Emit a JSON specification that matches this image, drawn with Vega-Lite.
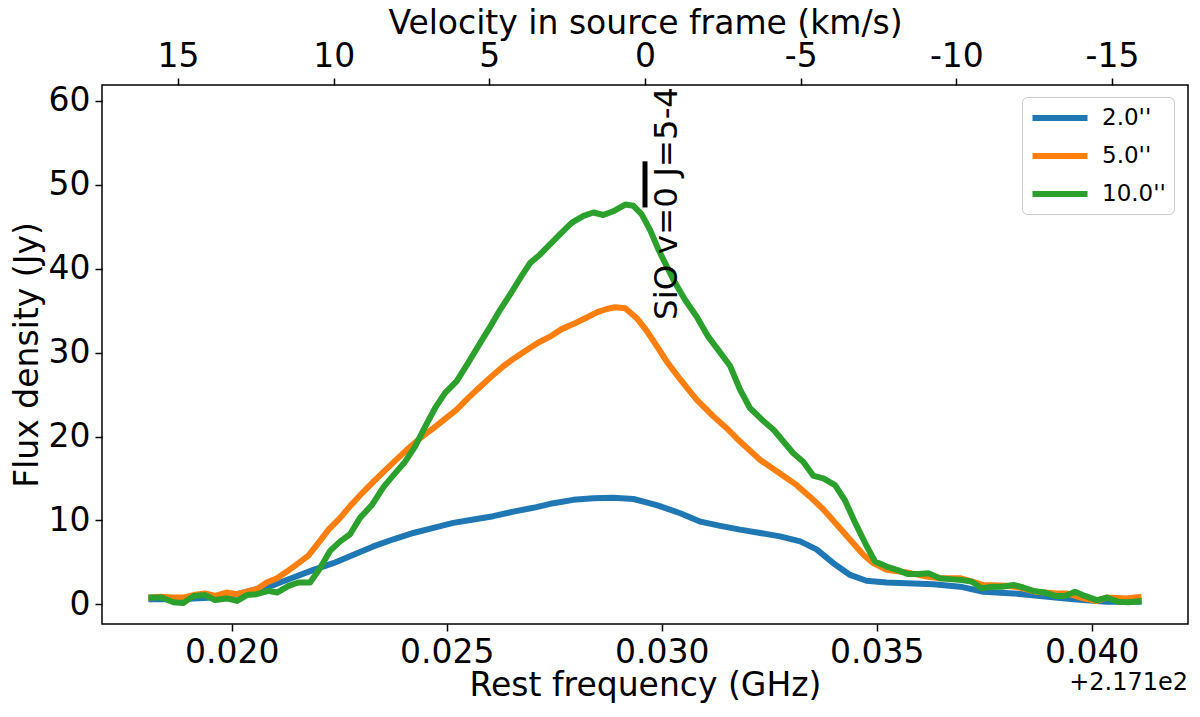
{
  "$schema": "https://vega.github.io/schema/vega-lite/v6.json",
  "width": 1086,
  "height": 539,
  "autosize": "none",
  "padding": {"left": 102, "top": 85, "right": 12, "bottom": 93},
  "background": "white",
  "config": {
    "font": "DejaVu Sans",
    "view": {"stroke": "black", "strokeWidth": 1.5},
    "axis": {
      "domain": false,
      "grid": false,
      "tickColor": "black",
      "tickSize": 7,
      "tickWidth": 1.5,
      "labelFont": "DejaVu Sans",
      "labelFontSize": 33,
      "labelColor": "black",
      "labelPadding": 5,
      "titleFont": "DejaVu Sans",
      "titleFontSize": 33,
      "titleFontWeight": "normal",
      "titleColor": "black"
    }
  },
  "datasets": {
    "spectra": [
      {"f": 0.01806, "flux": 0.6, "ap": "2.0"},
      {"f": 0.01864, "flux": 0.6, "ap": "2.0"},
      {"f": 0.01911, "flux": 0.7, "ap": "2.0"},
      {"f": 0.01957, "flux": 0.8, "ap": "2.0"},
      {"f": 0.02004, "flux": 1.1, "ap": "2.0"},
      {"f": 0.0205, "flux": 1.7, "ap": "2.0"},
      {"f": 0.02097, "flux": 2.3, "ap": "2.0"},
      {"f": 0.02143, "flux": 3.2, "ap": "2.0"},
      {"f": 0.0219, "flux": 4.1, "ap": "2.0"},
      {"f": 0.02236, "flux": 4.9, "ap": "2.0"},
      {"f": 0.02283, "flux": 5.9, "ap": "2.0"},
      {"f": 0.02329, "flux": 6.9, "ap": "2.0"},
      {"f": 0.02376, "flux": 7.75, "ap": "2.0"},
      {"f": 0.02422, "flux": 8.5, "ap": "2.0"},
      {"f": 0.02469, "flux": 9.1, "ap": "2.0"},
      {"f": 0.02515, "flux": 9.7, "ap": "2.0"},
      {"f": 0.02562, "flux": 10.1, "ap": "2.0"},
      {"f": 0.02608, "flux": 10.5, "ap": "2.0"},
      {"f": 0.02655, "flux": 11.05, "ap": "2.0"},
      {"f": 0.02701, "flux": 11.5, "ap": "2.0"},
      {"f": 0.02748, "flux": 12.05, "ap": "2.0"},
      {"f": 0.02794, "flux": 12.45, "ap": "2.0"},
      {"f": 0.02841, "flux": 12.65, "ap": "2.0"},
      {"f": 0.02887, "flux": 12.7, "ap": "2.0"},
      {"f": 0.02934, "flux": 12.55, "ap": "2.0"},
      {"f": 0.0296, "flux": 12.2, "ap": "2.0"},
      {"f": 0.0299, "flux": 11.8, "ap": "2.0"},
      {"f": 0.03043, "flux": 10.85, "ap": "2.0"},
      {"f": 0.0309, "flux": 9.85, "ap": "2.0"},
      {"f": 0.03136, "flux": 9.35, "ap": "2.0"},
      {"f": 0.03182, "flux": 8.9, "ap": "2.0"},
      {"f": 0.03229, "flux": 8.5, "ap": "2.0"},
      {"f": 0.03275, "flux": 8.1, "ap": "2.0"},
      {"f": 0.03322, "flux": 7.5, "ap": "2.0"},
      {"f": 0.0336, "flux": 6.55, "ap": "2.0"},
      {"f": 0.03399, "flux": 4.9, "ap": "2.0"},
      {"f": 0.03438, "flux": 3.5, "ap": "2.0"},
      {"f": 0.03476, "flux": 2.8, "ap": "2.0"},
      {"f": 0.03523, "flux": 2.6, "ap": "2.0"},
      {"f": 0.0357, "flux": 2.5, "ap": "2.0"},
      {"f": 0.03632, "flux": 2.4, "ap": "2.0"},
      {"f": 0.03694, "flux": 2.1, "ap": "2.0"},
      {"f": 0.03748, "flux": 1.5, "ap": "2.0"},
      {"f": 0.03818, "flux": 1.3, "ap": "2.0"},
      {"f": 0.0388, "flux": 1.0, "ap": "2.0"},
      {"f": 0.03957, "flux": 0.6, "ap": "2.0"},
      {"f": 0.04035, "flux": 0.3, "ap": "2.0"},
      {"f": 0.04116, "flux": 0.3, "ap": "2.0"},

      {"f": 0.01806, "flux": 0.8, "ap": "5.0"},
      {"f": 0.01837, "flux": 0.9, "ap": "5.0"},
      {"f": 0.01864, "flux": 0.8, "ap": "5.0"},
      {"f": 0.01887, "flux": 0.8, "ap": "5.0"},
      {"f": 0.01911, "flux": 1.1, "ap": "5.0"},
      {"f": 0.01938, "flux": 1.3, "ap": "5.0"},
      {"f": 0.01961, "flux": 1.0, "ap": "5.0"},
      {"f": 0.01988, "flux": 1.4, "ap": "5.0"},
      {"f": 0.02012, "flux": 1.2, "ap": "5.0"},
      {"f": 0.02035, "flux": 1.5, "ap": "5.0"},
      {"f": 0.02058, "flux": 1.8, "ap": "5.0"},
      {"f": 0.02081, "flux": 2.6, "ap": "5.0"},
      {"f": 0.02105, "flux": 3.1, "ap": "5.0"},
      {"f": 0.02128, "flux": 3.9, "ap": "5.0"},
      {"f": 0.02155, "flux": 4.9, "ap": "5.0"},
      {"f": 0.02178, "flux": 5.8, "ap": "5.0"},
      {"f": 0.02201, "flux": 7.3, "ap": "5.0"},
      {"f": 0.02225, "flux": 8.9, "ap": "5.0"},
      {"f": 0.02252, "flux": 10.3, "ap": "5.0"},
      {"f": 0.02275, "flux": 11.7, "ap": "5.0"},
      {"f": 0.02302, "flux": 13.2, "ap": "5.0"},
      {"f": 0.02329, "flux": 14.6, "ap": "5.0"},
      {"f": 0.02357, "flux": 16.0, "ap": "5.0"},
      {"f": 0.02384, "flux": 17.3, "ap": "5.0"},
      {"f": 0.02411, "flux": 18.6, "ap": "5.0"},
      {"f": 0.02438, "flux": 19.8, "ap": "5.0"},
      {"f": 0.02469, "flux": 21.0, "ap": "5.0"},
      {"f": 0.02496, "flux": 22.1, "ap": "5.0"},
      {"f": 0.02523, "flux": 23.2, "ap": "5.0"},
      {"f": 0.0255, "flux": 24.6, "ap": "5.0"},
      {"f": 0.02577, "flux": 25.9, "ap": "5.0"},
      {"f": 0.02605, "flux": 27.2, "ap": "5.0"},
      {"f": 0.02632, "flux": 28.4, "ap": "5.0"},
      {"f": 0.02659, "flux": 29.4, "ap": "5.0"},
      {"f": 0.02686, "flux": 30.3, "ap": "5.0"},
      {"f": 0.02713, "flux": 31.2, "ap": "5.0"},
      {"f": 0.0274, "flux": 31.9, "ap": "5.0"},
      {"f": 0.02767, "flux": 32.8, "ap": "5.0"},
      {"f": 0.02794, "flux": 33.4, "ap": "5.0"},
      {"f": 0.02822, "flux": 34.1, "ap": "5.0"},
      {"f": 0.02849, "flux": 34.8, "ap": "5.0"},
      {"f": 0.02872, "flux": 35.2, "ap": "5.0"},
      {"f": 0.02891, "flux": 35.4, "ap": "5.0"},
      {"f": 0.02915, "flux": 35.3, "ap": "5.0"},
      {"f": 0.02942, "flux": 34.1, "ap": "5.0"},
      {"f": 0.02965, "flux": 32.6, "ap": "5.0"},
      {"f": 0.02992, "flux": 30.5, "ap": "5.0"},
      {"f": 0.03012, "flux": 28.9, "ap": "5.0"},
      {"f": 0.03043, "flux": 26.8, "ap": "5.0"},
      {"f": 0.03081, "flux": 24.4, "ap": "5.0"},
      {"f": 0.0312, "flux": 22.4, "ap": "5.0"},
      {"f": 0.03155, "flux": 20.8, "ap": "5.0"},
      {"f": 0.03182, "flux": 19.4, "ap": "5.0"},
      {"f": 0.03229, "flux": 17.2, "ap": "5.0"},
      {"f": 0.03275, "flux": 15.6, "ap": "5.0"},
      {"f": 0.03314, "flux": 14.2, "ap": "5.0"},
      {"f": 0.03345, "flux": 12.8, "ap": "5.0"},
      {"f": 0.03376, "flux": 11.3, "ap": "5.0"},
      {"f": 0.03407, "flux": 9.5, "ap": "5.0"},
      {"f": 0.03438, "flux": 7.7, "ap": "5.0"},
      {"f": 0.03469, "flux": 5.9, "ap": "5.0"},
      {"f": 0.03492, "flux": 4.9, "ap": "5.0"},
      {"f": 0.03523, "flux": 4.1, "ap": "5.0"},
      {"f": 0.0357, "flux": 3.8, "ap": "5.0"},
      {"f": 0.03616, "flux": 3.3, "ap": "5.0"},
      {"f": 0.03647, "flux": 3.1, "ap": "5.0"},
      {"f": 0.03694, "flux": 3.1, "ap": "5.0"},
      {"f": 0.03717, "flux": 2.8, "ap": "5.0"},
      {"f": 0.03748, "flux": 2.3, "ap": "5.0"},
      {"f": 0.03802, "flux": 2.2, "ap": "5.0"},
      {"f": 0.03833, "flux": 2.0, "ap": "5.0"},
      {"f": 0.03868, "flux": 1.5, "ap": "5.0"},
      {"f": 0.03919, "flux": 1.3, "ap": "5.0"},
      {"f": 0.03942, "flux": 1.3, "ap": "5.0"},
      {"f": 0.03981, "flux": 0.7, "ap": "5.0"},
      {"f": 0.04012, "flux": 0.4, "ap": "5.0"},
      {"f": 0.04035, "flux": 0.8, "ap": "5.0"},
      {"f": 0.04081, "flux": 0.7, "ap": "5.0"},
      {"f": 0.04116, "flux": 0.9, "ap": "5.0"},

      {"f": 0.01806, "flux": 0.8, "ap": "10.0"},
      {"f": 0.01837, "flux": 0.8, "ap": "10.0"},
      {"f": 0.01864, "flux": 0.25, "ap": "10.0"},
      {"f": 0.01887, "flux": 0.15, "ap": "10.0"},
      {"f": 0.01911, "flux": 1.0, "ap": "10.0"},
      {"f": 0.01938, "flux": 1.1, "ap": "10.0"},
      {"f": 0.01961, "flux": 0.5, "ap": "10.0"},
      {"f": 0.01988, "flux": 0.7, "ap": "10.0"},
      {"f": 0.02012, "flux": 0.4, "ap": "10.0"},
      {"f": 0.02035, "flux": 1.1, "ap": "10.0"},
      {"f": 0.02058, "flux": 1.2, "ap": "10.0"},
      {"f": 0.02085, "flux": 1.6, "ap": "10.0"},
      {"f": 0.02105, "flux": 1.4, "ap": "10.0"},
      {"f": 0.02132, "flux": 2.2, "ap": "10.0"},
      {"f": 0.02155, "flux": 2.6, "ap": "10.0"},
      {"f": 0.02182, "flux": 2.6, "ap": "10.0"},
      {"f": 0.02205, "flux": 4.3, "ap": "10.0"},
      {"f": 0.02229, "flux": 6.4, "ap": "10.0"},
      {"f": 0.02252, "flux": 7.5, "ap": "10.0"},
      {"f": 0.02275, "flux": 8.35, "ap": "10.0"},
      {"f": 0.02298, "flux": 10.3, "ap": "10.0"},
      {"f": 0.02326, "flux": 11.85, "ap": "10.0"},
      {"f": 0.02353, "flux": 14.0, "ap": "10.0"},
      {"f": 0.02376, "flux": 15.4, "ap": "10.0"},
      {"f": 0.02403, "flux": 17.0, "ap": "10.0"},
      {"f": 0.02426, "flux": 18.8, "ap": "10.0"},
      {"f": 0.0245, "flux": 21.2, "ap": "10.0"},
      {"f": 0.02473, "flux": 23.4, "ap": "10.0"},
      {"f": 0.02496, "flux": 25.2, "ap": "10.0"},
      {"f": 0.02523, "flux": 26.6, "ap": "10.0"},
      {"f": 0.0255, "flux": 28.8, "ap": "10.0"},
      {"f": 0.02577, "flux": 31.1, "ap": "10.0"},
      {"f": 0.02601, "flux": 33.1, "ap": "10.0"},
      {"f": 0.02624, "flux": 35.1, "ap": "10.0"},
      {"f": 0.02647, "flux": 36.9, "ap": "10.0"},
      {"f": 0.02671, "flux": 38.9, "ap": "10.0"},
      {"f": 0.02694, "flux": 40.7, "ap": "10.0"},
      {"f": 0.02717, "flux": 41.7, "ap": "10.0"},
      {"f": 0.0274, "flux": 42.9, "ap": "10.0"},
      {"f": 0.02767, "flux": 44.3, "ap": "10.0"},
      {"f": 0.02791, "flux": 45.5, "ap": "10.0"},
      {"f": 0.02818, "flux": 46.3, "ap": "10.0"},
      {"f": 0.02841, "flux": 46.7, "ap": "10.0"},
      {"f": 0.02864, "flux": 46.4, "ap": "10.0"},
      {"f": 0.02887, "flux": 46.85, "ap": "10.0"},
      {"f": 0.02915, "flux": 47.65, "ap": "10.0"},
      {"f": 0.02934, "flux": 47.5, "ap": "10.0"},
      {"f": 0.02953, "flux": 46.5, "ap": "10.0"},
      {"f": 0.02973, "flux": 44.6, "ap": "10.0"},
      {"f": 0.02992, "flux": 42.3, "ap": "10.0"},
      {"f": 0.03027, "flux": 38.7, "ap": "10.0"},
      {"f": 0.03054, "flux": 36.3, "ap": "10.0"},
      {"f": 0.03081, "flux": 34.3, "ap": "10.0"},
      {"f": 0.03108, "flux": 31.9, "ap": "10.0"},
      {"f": 0.03136, "flux": 30.0, "ap": "10.0"},
      {"f": 0.03159, "flux": 28.4, "ap": "10.0"},
      {"f": 0.03182, "flux": 25.6, "ap": "10.0"},
      {"f": 0.03205, "flux": 23.4, "ap": "10.0"},
      {"f": 0.03233, "flux": 22.0, "ap": "10.0"},
      {"f": 0.0326, "flux": 20.8, "ap": "10.0"},
      {"f": 0.03283, "flux": 19.4, "ap": "10.0"},
      {"f": 0.03306, "flux": 18.0, "ap": "10.0"},
      {"f": 0.03329, "flux": 17.0, "ap": "10.0"},
      {"f": 0.03353, "flux": 15.3, "ap": "10.0"},
      {"f": 0.03376, "flux": 15.0, "ap": "10.0"},
      {"f": 0.03403, "flux": 14.2, "ap": "10.0"},
      {"f": 0.03426, "flux": 12.4, "ap": "10.0"},
      {"f": 0.0345, "flux": 9.7, "ap": "10.0"},
      {"f": 0.03473, "flux": 7.3, "ap": "10.0"},
      {"f": 0.03496, "flux": 5.1, "ap": "10.0"},
      {"f": 0.03523, "flux": 4.5, "ap": "10.0"},
      {"f": 0.03547, "flux": 4.1, "ap": "10.0"},
      {"f": 0.03573, "flux": 3.6, "ap": "10.0"},
      {"f": 0.03597, "flux": 3.6, "ap": "10.0"},
      {"f": 0.0362, "flux": 3.7, "ap": "10.0"},
      {"f": 0.03647, "flux": 3.1, "ap": "10.0"},
      {"f": 0.0367, "flux": 3.0, "ap": "10.0"},
      {"f": 0.03697, "flux": 2.9, "ap": "10.0"},
      {"f": 0.03721, "flux": 2.7, "ap": "10.0"},
      {"f": 0.03744, "flux": 1.9, "ap": "10.0"},
      {"f": 0.03767, "flux": 2.1, "ap": "10.0"},
      {"f": 0.03791, "flux": 2.1, "ap": "10.0"},
      {"f": 0.03818, "flux": 2.3, "ap": "10.0"},
      {"f": 0.03841, "flux": 2.0, "ap": "10.0"},
      {"f": 0.03864, "flux": 1.6, "ap": "10.0"},
      {"f": 0.03891, "flux": 1.4, "ap": "10.0"},
      {"f": 0.03915, "flux": 1.0, "ap": "10.0"},
      {"f": 0.03938, "flux": 1.0, "ap": "10.0"},
      {"f": 0.03961, "flux": 1.5, "ap": "10.0"},
      {"f": 0.03984, "flux": 1.0, "ap": "10.0"},
      {"f": 0.04012, "flux": 0.5, "ap": "10.0"},
      {"f": 0.04035, "flux": 0.8, "ap": "10.0"},
      {"f": 0.04062, "flux": 0.3, "ap": "10.0"},
      {"f": 0.04085, "flux": 0.25, "ap": "10.0"},
      {"f": 0.04116, "flux": 0.4, "ap": "10.0"}
    ],
    "freq_offset": [
      {"f": 0.04224, "flux": -10.2, "label": "+2.171e2"}
    ],
    "line_marker": [
      {"v": 0, "flux": 47.3, "flux2": 52.8}
    ],
    "line_label": [
      {"v": -0.19, "flux": 33.9, "label": "SiO v=0 J=5-4"}
    ]
  },
  "layer": [
    {
      "layer": [
        {
          "data": {"name": "spectra"},
          "mark": {"type": "line", "strokeWidth": 6, "strokeJoin": "round"},
          "encoding": {
            "x": {
              "field": "f",
              "type": "quantitative",
              "scale": {"domain": [0.01698, 0.04224], "nice": false, "zero": false},
              "axis": {
                "values": [0.02, 0.025, 0.03, 0.035, 0.04],
                "format": ".3f",
                "title": "Rest frequency (GHz)",
                "titlePadding": 0
              }
            },
            "y": {
              "field": "flux",
              "type": "quantitative",
              "scale": {"domain": [-2.35, 61.9], "nice": false, "zero": false},
              "axis": {
                "values": [0, 10, 20, 30, 40, 50, 60],
                "title": "Flux density (Jy)",
                "titlePadding": 4
              }
            },
            "color": {
              "field": "ap",
              "type": "nominal",
              "scale": {
                "domain": ["2.0", "5.0", "10.0"],
                "range": ["#1f77b4", "#ff7f0e", "#2ca02c"]
              },
              "legend": {
                "orient": "none",
                "legendX": 920,
                "legendY": 12,
                "title": null,
                "labelExpr": "datum.label + \"''\"",
                "symbolType": "M-2.75,0H2.75",
                "symbolStrokeWidth": 6,
                "symbolSize": 400,
                "symbolOffset": 17,
                "labelOffset": 29,
                "labelFont": "DejaVu Sans",
                "labelFontSize": 23,
                "labelColor": "black",
                "rowPadding": 13,
                "padding": 8,
                "fillColor": "white",
                "strokeColor": "#cccccc",
                "cornerRadius": 5
              }
            }
          }
        },
        {
          "data": {"name": "freq_offset"},
          "mark": {"type": "text", "align": "right", "baseline": "alphabetic", "fontSize": 24, "font": "DejaVu Sans", "color": "black"},
          "encoding": {
            "x": {"field": "f", "type": "quantitative"},
            "y": {"field": "flux", "type": "quantitative"},
            "text": {"field": "label"}
          }
        }
      ]
    },
    {
      "layer": [
        {
          "data": {"name": "line_marker"},
          "mark": {"type": "rule", "strokeWidth": 5, "color": "black"},
          "encoding": {
            "x": {
              "field": "v",
              "type": "quantitative",
              "scale": {"domain": [-17.44, 17.44], "reverse": true, "nice": false, "zero": false},
              "axis": {
                "orient": "top",
                "values": [15, 10, 5, 0, -5, -10, -15],
                "labelExpr": "datum.value < 0 ? '-' + abs(datum.value) : '' + datum.value",
                "labelPadding": 5,
                "title": "Velocity in source frame (km/s)",
                "titlePadding": 0
              }
            },
            "y": {"field": "flux", "type": "quantitative"},
            "y2": {"field": "flux2"}
          }
        },
        {
          "data": {"name": "line_label"},
          "mark": {"type": "text", "angle": 270, "align": "left", "baseline": "top", "fontSize": 32.5, "font": "DejaVu Sans", "color": "black"},
          "encoding": {
            "x": {"field": "v", "type": "quantitative"},
            "y": {"field": "flux", "type": "quantitative"},
            "text": {"field": "label"}
          }
        }
      ]
    }
  ],
  "resolve": {"scale": {"x": "independent"}, "axis": {"x": "independent"}}
}
